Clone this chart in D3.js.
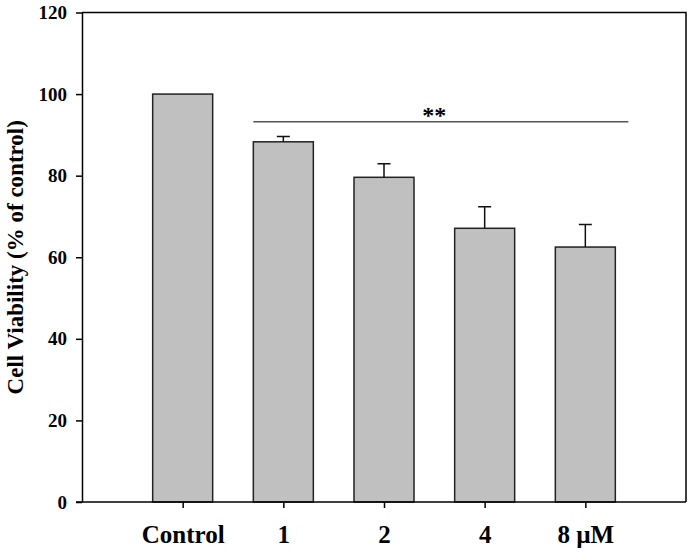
<!DOCTYPE html>
<html>
<head>
<meta charset="utf-8">
<script src="https://cdn.jsdelivr.net/npm/d3@7"></script>
<style>
    body { margin: 0; background: #fff; }
    text { font-family: "Liberation Serif", "Times New Roman", serif; font-weight: bold; fill: #000; }
</style>
</head>
<body>
<svg id="chart"></svg>
<script>
// chart values
const categories = ["Control", "1", "2", "4", "8 \u00b5M"];
const viability = [100, 88.3, 79.6, 67.1, 62.5];
const errors = [0, 1.3, 3.3, 5.3, 5.5];
const yTicks = [0, 20, 40, 60, 80, 100, 120];
const sigLevel = 93.2;
const sigLabel = "**";

const width = 691, height = 552;
const margin = {top: 12.5, right: 5, bottom: 50, left: 82};

let svg = d3.select("#chart")
    .attr("width", width)
    .attr("height", height);

let xScale = d3.scalePoint()
    .domain(categories)
    .range([margin.left, width - margin.right])
    .padding(1);

let yScale = d3.scaleLinear()
    .domain([0, 120])
    .range([height - margin.bottom, margin.top]);

let barW = 60;
let data = categories.map((c, i) => ({cat: c, value: viability[i], err: errors[i]}));

// frame (top and right)
svg.append("path")
    .attr("d", "M" + margin.left + "," + margin.top + "H" + (width - margin.right) + "V" + (height - margin.bottom))
    .attr("fill", "none")
    .attr("stroke", "#000")
    .attr("stroke-width", 1.5);

// bars
svg.selectAll(".bar")
    .data(data)
    .enter().append("rect")
    .attr("class", "bar")
    .attr("x", d => xScale(d.cat) - barW / 2)
    .attr("y", d => yScale(d.value))
    .attr("width", barW)
    .attr("height", d => yScale(0) - yScale(d.value))
    .attr("fill", "#c0c0c0")
    .attr("stroke", "#222")
    .attr("stroke-width", 1.5);

// error bars (upper only)
let errData = data.filter(d => d.err > 0);
svg.selectAll(".err")
    .data(errData)
    .enter().append("path")
    .attr("class", "err")
    .attr("d", d => {
        let x = xScale(d.cat), y0 = yScale(d.value), y1 = yScale(d.value + d.err);
        return "M" + x + "," + y0 + "V" + y1 + "M" + (x - 6.5) + "," + y1 + "H" + (x + 6.5);
    })
    .attr("fill", "none")
    .attr("stroke", "#111")
    .attr("stroke-width", 1.5);

// significance line
let sigX0 = xScale(categories[1]) - barW / 2;
let sigX1 = xScale(categories[4]) + barW / 2 + 13;
svg.append("line")
    .attr("x1", sigX0)
    .attr("x2", sigX1)
    .attr("y1", yScale(sigLevel))
    .attr("y2", yScale(sigLevel))
    .attr("stroke", "#555")
    .attr("stroke-width", 1.5);

svg.append("text")
    .attr("x", (xScale(categories[2]) + xScale(categories[3])) / 2)
    .attr("y", yScale(sigLevel) + 1)
    .attr("text-anchor", "middle")
    .style("font-size", "24px")
    .text(sigLabel);

// y axis
let yAxis = svg.append("g")
    .attr("transform", "translate(" + margin.left + ",0)")
    .call(d3.axisLeft(yScale).tickValues(yTicks).tickSize(6).tickPadding(9).tickSizeOuter(0));
yAxis.selectAll("line, path").attr("stroke", "#000").attr("stroke-width", 1.5);
yAxis.selectAll("text").style("font-size", "19px").attr("font-family", null);

// x axis
let xAxis = svg.append("g")
    .attr("transform", "translate(0," + yScale(0) + ")")
    .call(d3.axisBottom(xScale).tickSize(6).tickPadding(17).tickSizeOuter(0));
xAxis.select(".domain").attr("d", "M" + (margin.left - 6) + ",0H" + (width - margin.right));
xAxis.selectAll("line, path").attr("stroke", "#000").attr("stroke-width", 1.5);
xAxis.selectAll("text").style("font-size", "25px").attr("font-family", null);

// y label
svg.append("text")
    .attr("transform", "translate(23," + ((margin.top + yScale(0)) / 2) + ") rotate(-90)")
    .attr("text-anchor", "middle")
    .style("font-size", "23px")
    .text("Cell Viability (% of control)");
</script>
</body>
</html>
